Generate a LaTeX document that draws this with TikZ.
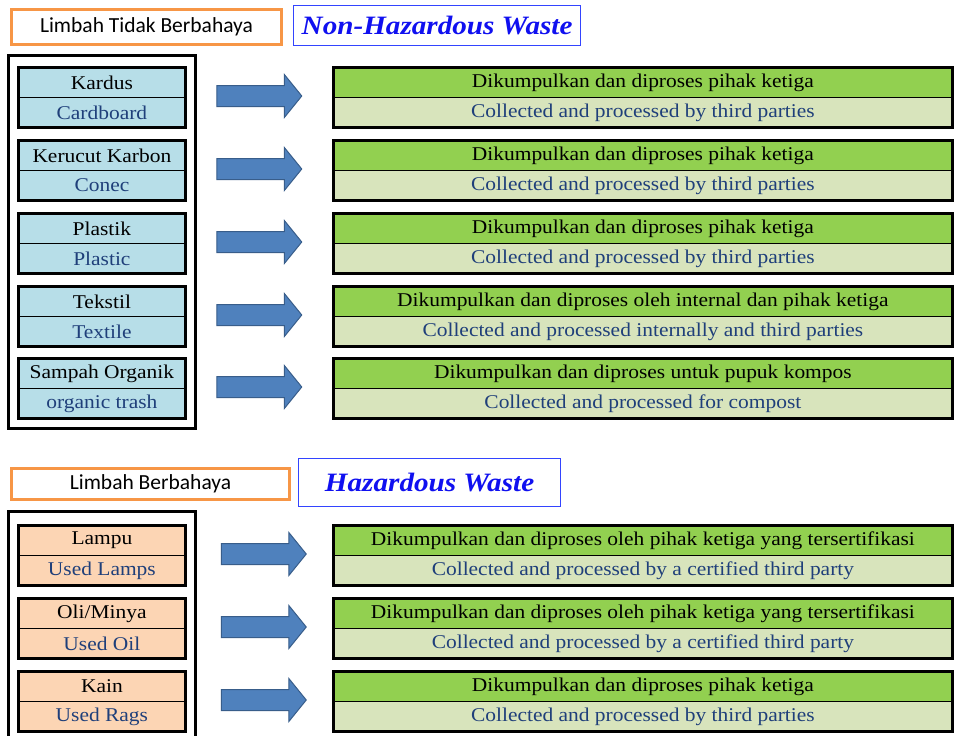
\documentclass[tikz,border=0pt]{standalone}
\usepackage{fontspec}
\setmainfont{Liberation Serif}[FakeStretch=1.1]
\newfontfamily\hdrfont{Carlito}
\usetikzlibrary{shapes.arrows}
\definecolor{lblue}{HTML}{B7DEE8}
\definecolor{peach}{HTML}{FCD5B4}
\definecolor{gtop}{HTML}{92D050}
\definecolor{gbot}{HTML}{D8E4BC}
\definecolor{txtblue}{HTML}{1F3F7A}
\definecolor{arrfill}{HTML}{4F81BD}
\definecolor{arrdraw}{HTML}{385D8A}
\definecolor{hdrorange}{HTML}{F79646}
\definecolor{titleblue}{HTML}{1010F0}
\definecolor{boxblue}{HTML}{3344FF}
\begin{document}
\begin{tikzpicture}[x=1pt,y=-1pt,
  cell/.style={draw=black, line width=0.8pt, minimum height=30pt, inner sep=0pt, anchor=north west, font=\fontsize{19.5}{19.5}\selectfont},
  lcell/.style={cell, minimum width=167pt},
  rcell/.style={cell, minimum width=619pt},
  toptxt/.style={text=black},
  bottxt/.style={text=txtblue},
  frame/.style={draw=black, line width=3pt},
  outer/.style={draw=black, line width=3pt},
  hdr/.style={draw=hdrorange, line width=3pt, inner sep=0pt, anchor=north west, font=\hdrfont\fontsize{21.5}{21.5}\selectfont},
  ttl/.style={draw=boxblue, line width=1.2pt, inner sep=0pt, anchor=north west, text=titleblue, font=\fontsize{26.5}{26.5}\selectfont\bfseries\itshape},
  fatarrow/.style={single arrow, fill=arrfill, draw=arrdraw, line width=1pt, minimum height=85pt, minimum width=42pt, single arrow head extend=11pt, single arrow tip angle=102, inner xsep=0pt, inner ysep=10pt}
]
\useasboundingbox (0,0) rectangle (962,736);
\fill[white] (0,0) rectangle (962,736);

% headers
\node[hdr, minimum width=270pt, minimum height=35pt] (h1) at (10,8) {Limbah Tidak Berbahaya};
\node[ttl, minimum width=287pt, minimum height=40pt] (t1) at (293,5) {Non-Hazardous Waste};
\node[hdr, minimum width=278pt, minimum height=31pt] (h2) at (10,467) {Limbah Berbahaya};
\node[ttl, minimum width=262pt, minimum height=48pt] (t2) at (298,458) {Hazardous Waste\hspace{12pt}};

% outer frames
\draw[outer] (8,55) rectangle (195,428);
\draw[outer] (8,511) rectangle (195,760);

% upper items
\foreach \t/\a/\b/\c/\d [count=\i] in {
  67/Kardus/Cardboard/Dikumpulkan dan diproses pihak ketiga/Collected and processed by third parties,
  140/Kerucut Karbon/Conec/Dikumpulkan dan diproses pihak ketiga/Collected and processed by third parties,
  213/Plastik/Plastic/Dikumpulkan dan diproses pihak ketiga/Collected and processed by third parties,
  286/Tekstil/Textile/Dikumpulkan dan diproses oleh internal dan pihak ketiga/Collected and processed internally and third parties,
  358/Sampah Organik/organic trash/Dikumpulkan dan diproses untuk pupuk kompos/Collected and processed for compost}{
  \node[lcell, fill=lblue, toptxt] (lt\i) at (18,\t) {\a};
  \node[lcell, fill=lblue, bottxt] (lb\i) at (18,\t+30) {\b};
  \draw[frame] (lt\i.north west) rectangle (lb\i.south east);
  \node[rcell, fill=gtop, toptxt] (rt\i) at (333,\t) {\c};
  \node[rcell, fill=gbot, bottxt] (rb\i) at (333,\t+30) {\d};
  \draw[frame] (rt\i.north west) rectangle (rb\i.south east);
  \node[fatarrow] (ar\i) at (255,\t+29) {};
}

% lower items
\foreach \t/\a/\b/\c/\d [count=\i] in {
  525/Lampu/Used Lamps/Dikumpulkan dan diproses oleh pihak ketiga yang tersertifikasi/Collected and processed by a certified third party,
  598/{Oli/Minya}/Used Oil/Dikumpulkan dan diproses oleh pihak ketiga yang tersertifikasi/Collected and processed by a certified third party,
  671/Kain/Used Rags/Dikumpulkan dan diproses pihak ketiga/Collected and processed by third parties}{
  \node[lcell, fill=peach, toptxt] (mt\i) at (18,\t) {\a};
  \node[lcell, fill=peach, bottxt] (mb\i) at (18,\t+30) {\b};
  \draw[frame] (mt\i.north west) rectangle (mb\i.south east);
  \node[rcell, fill=gtop, toptxt] (st\i) at (333,\t) {\c};
  \node[rcell, fill=gbot, bottxt] (sb\i) at (333,\t+30) {\d};
  \draw[frame] (st\i.north west) rectangle (sb\i.south east);
  \node[fatarrow] (br\i) at (259.5,\t+29) {};
}
\end{tikzpicture}
\end{document}
